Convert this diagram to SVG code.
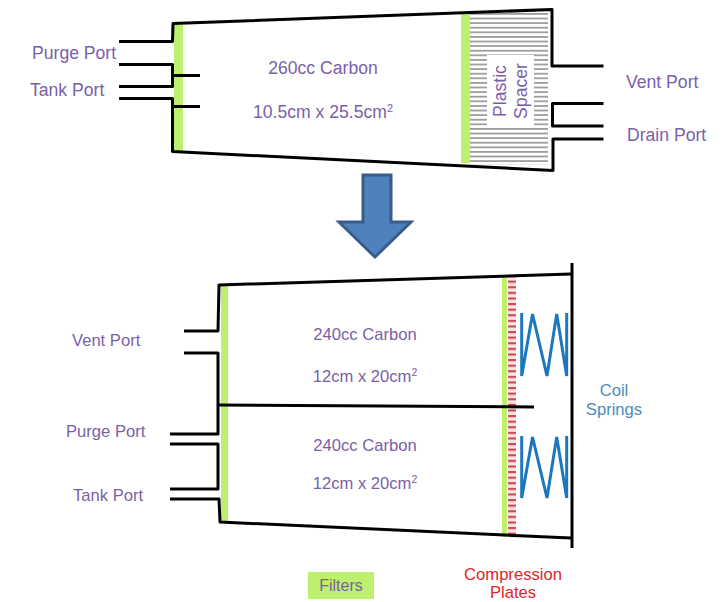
<svg xmlns="http://www.w3.org/2000/svg" width="728" height="602" viewBox="0 0 728 602">
<style>
text{font-family:"Liberation Sans",Arial,sans-serif;font-size:17.6px}
.p{fill:#7a5fa8}
.f{font-size:16.6px}
.b{fill:#4a8dbb}
.r{fill:#e0262c}
.m{text-anchor:middle}
.k{fill:none;stroke:#000;stroke-width:3;stroke-linejoin:round;stroke-linecap:butt}
.g{fill:#bdf06e}
.s{fill:none;stroke:#1c77bd;stroke-width:3;stroke-linejoin:miter}
</style>
<defs>
<pattern id="hatch" width="10" height="4.6" patternUnits="userSpaceOnUse" patternTransform="translate(0 13)">
<rect y="0" width="10" height="1.8" fill="#9a9e9d"/>
</pattern>
<pattern id="dash" width="10" height="5.6" patternUnits="userSpaceOnUse" patternTransform="translate(0 275)">
<rect width="10" height="2.2" fill="#cc4a5c"/>
</pattern>
</defs>
<rect width="728" height="602" fill="#fff"/>
<g id="top-canister">
<rect class="g" x="174" y="25" width="9" height="126"/>
<rect x="470" y="13" width="78" height="152" fill="url(#hatch)"/>
<rect x="487" y="55" width="47" height="73" fill="#fff"/>
<rect class="g" x="461" y="12" width="9" height="151"/>
</g>
<g id="bottom-canister">
<rect class="g" x="221" y="286" width="7" height="236"/>
<rect class="g" x="502" y="277" width="5" height="260"/>
<rect x="508" y="275" width="8" height="263" fill="#fbe4e4"/>
<rect x="508" y="275" width="8" height="263" fill="url(#dash)"/>
</g>
<g id="connectors">
<path class="k" d="M119 41.500H172.500L173 23.500L552 9.500V66H603.500"/>
<path class="k" d="M119 64.500H172.500V86.500H119"/>
<path class="k" d="M119 98.500H172.500V151.500L553 170.500V139H603.500"/>
<path class="k" d="M603.500 103.500H552.500V126H603.500"/>
<path class="k" d="M172 75.500H200M172 106.500H200"/>
<path class="k" d="M184 331H218L219 285L571 274"/>
<path class="k" d="M184 353H218V434H170M170 444H218V489H170M170 499H219L220 522L571 538"/>
<path class="k" d="M218 405L534 407"/>
<path class="k" d="M572 263V548" stroke-width="3.500"/>
</g>
<g id="springs">
<path class="s" d="M521.700 313V376L532.500 314L547 376L556.700 314L566.700 376V313"/>
<path class="s" d="M521.700 436V498L532.500 437L547 498L556.700 437L566.700 498V436"/>
</g>
<g id="arrow">
<path d="M363 175H391V222H411L375 257L339 222H363Z" fill="#4f81bd" stroke="#385d8a" stroke-width="3"/>
</g>
<g id="labels">
<text class="p" x="32" y="59">Purge Port</text>
<text class="p" x="30" y="96">Tank  Port</text>
<text class="p m" x="323" y="74">260cc Carbon</text>
<text class="p m" x="323" y="118">10.5cm x 25.5cm<tspan font-size="11" dy="-6">2</tspan></text>
<text class="p m" transform="translate(506 91) rotate(-90)">Plastic</text>
<text class="p m" transform="translate(527 91) rotate(-90)">Spacer</text>
<text class="p" x="626" y="88">Vent Port</text>
<text class="p" x="627" y="141">Drain Port</text>
<text class="p f" x="72" y="346">Vent Port</text>
<text class="p f" x="66" y="437">Purge Port</text>
<text class="p f" x="73" y="501">Tank Port</text>
<text class="p f m" x="365" y="340">240cc Carbon</text>
<text class="p f m" x="365" y="382">12cm x 20cm<tspan font-size="10.500" dy="-6">2</tspan></text>
<text class="p f m" x="365" y="451">240cc Carbon</text>
<text class="p f m" x="365" y="489">12cm x 20cm<tspan font-size="10.500" dy="-6">2</tspan></text>
<text class="b f m" x="614" y="396">Coil</text>
<text class="b f m" x="614" y="415">Springs</text>
<rect class="g" x="308" y="572" width="66" height="27"/>
<text class="p m" x="341" y="591" style="font-size:16px">Filters</text>
<text class="r f m" x="513" y="580">Compression</text>
<text class="r f m" x="513" y="597.500">Plates</text>
</g>
</svg>
